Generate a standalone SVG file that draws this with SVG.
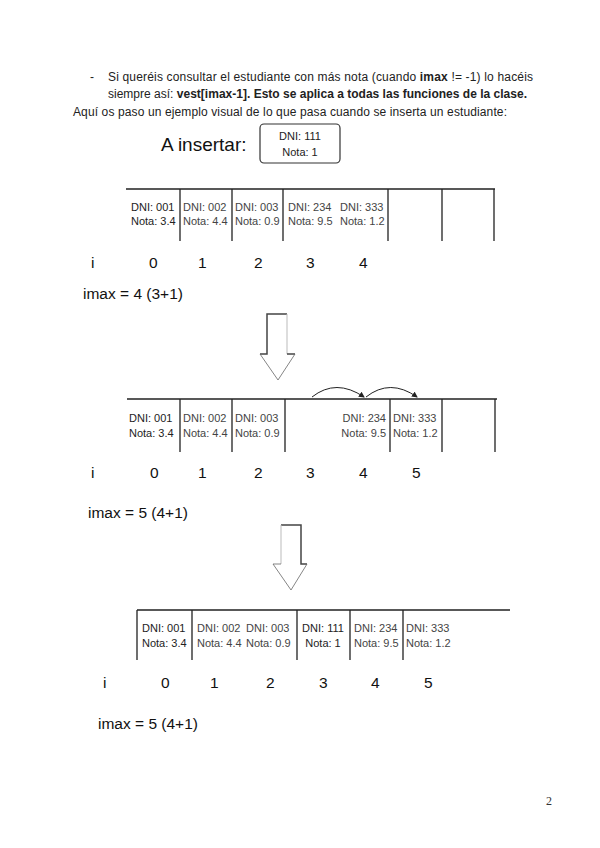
<svg xmlns="http://www.w3.org/2000/svg" width="600" height="848" viewBox="0 0 600 848">
<style>
.hdr{font-family:"Liberation Sans",Arial,sans-serif;font-size:12px;fill:#222}
.b{font-weight:bold}
.lbl{font-family:"Liberation Sans",Arial,sans-serif;font-size:15.5px;fill:#111}
.cell{font-family:"Liberation Sans",Arial,sans-serif;font-size:11px;fill:#444}
.cell1{fill:#222}
.ln{stroke:#222;stroke-width:1.3;fill:none}
.aro{stroke:#444;stroke-width:1.5;fill:none}
.arf{stroke:#bbb;stroke-width:1;fill:none}
.ard{stroke:#666;stroke-width:0.8;fill:none}
</style>
<defs>
<marker id="ah" markerWidth="6" markerHeight="6" refX="5" refY="3" orient="auto" markerUnits="userSpaceOnUse">
<path d="M0,0 L6,3 L0,6 Z" fill="#222"/>
</marker>
</defs>
<rect width="600" height="848" fill="#fff"/>

<g id="header">
<text class="hdr" x="90" y="81">-</text>
<text class="hdr" x="108" y="81" textLength="425" lengthAdjust="spacing">Si queréis consultar el estudiante con más nota (cuando <tspan class="b">imax</tspan> != -1) lo hacéis</text>
<text class="hdr" x="108" y="98" textLength="419" lengthAdjust="spacing">siempre así: <tspan class="b">vest[imax-1]. Esto se aplica a todas las funciones de la clase.</tspan></text>
<text class="hdr" x="73" y="116" textLength="434" lengthAdjust="spacing">Aquí os paso un ejemplo visual de lo que pasa cuando se inserta un estudiante:</text>
</g>

<g id="insert">
<text x="161" y="151" font-family="Liberation Sans, Arial, sans-serif" font-size="19" fill="#111">A insertar:</text>
<rect x="260" y="124" width="80" height="39" rx="4" fill="none" stroke="#333" stroke-width="1.2"/>
<text class="cell cell1" x="300" y="140" text-anchor="middle" font-size="12">DNI: 111</text>
<text class="cell cell1" x="300" y="156" text-anchor="middle" font-size="12">Nota: 1</text>
</g>

<g id="table1">
<path class="ln" d="M126,189 H495 M180,189 V241 M232,189 V241 M283,189 V241 M388,189 V241 M442,189 V241 M494,189 V241"/>
<text class="cell cell1" x="131" y="211">DNI: 001</text><text class="cell cell1" x="131" y="225">Nota: 3.4</text>
<text class="cell" x="183" y="211">DNI: 002</text><text class="cell" x="183" y="225">Nota: 4.4</text>
<text class="cell" x="235" y="211">DNI: 003</text><text class="cell" x="235" y="225">Nota: 0.9</text>
<text class="cell" x="288" y="211">DNI: 234</text><text class="cell" x="288" y="225">Nota: 9.5</text>
<text class="cell" x="340" y="211">DNI: 333</text><text class="cell" x="340" y="225">Nota: 1.2</text>
</g>
<g id="idx1">
<text class="lbl" x="91" y="268">i</text>
<text class="lbl" x="149" y="268">0</text>
<text class="lbl" x="198" y="268">1</text>
<text class="lbl" x="254" y="268">2</text>
<text class="lbl" x="306" y="268">3</text>
<text class="lbl" x="359" y="268">4</text>
<text class="lbl" x="83" y="299">imax = 4 (3+1)</text>
</g>

<g id="arrow1">
<path class="aro" d="M287,314 H267 V354 H260"/>
<path class="arf" d="M287,314 V354"/>
<path class="aro" d="M287,354 H295"/>
<path class="ard" d="M260,354 L278,380 L295,354"/>
</g>

<g id="table2">
<path class="ln" d="M127,399 H497 M180,399 V452 M232,399 V452 M285,399 V452 M390,399 V452 M442,399 V452 M495,399 V452"/>
<text class="cell cell1" x="129" y="422">DNI: 001</text><text class="cell cell1" x="129" y="437">Nota: 3.4</text>
<text class="cell" x="183" y="422">DNI: 002</text><text class="cell" x="183" y="437">Nota: 4.4</text>
<text class="cell" x="235" y="422">DNI: 003</text><text class="cell" x="235" y="437">Nota: 0.9</text>
<text class="cell" x="386" y="422" text-anchor="end">DNI: 234</text><text class="cell" x="386" y="437" text-anchor="end">Nota: 9.5</text>
<text class="cell" x="393" y="422">DNI: 333</text><text class="cell" x="393" y="437">Nota: 1.2</text>
</g>
<g id="connectors">
<path d="M312,397 Q336,378 364,397" stroke="#222" stroke-width="1" fill="none" marker-end="url(#ah)"/>
<path d="M366,397 Q390,378 417,397" stroke="#222" stroke-width="1" fill="none" marker-end="url(#ah)"/>
</g>
<g id="idx2">
<text class="lbl" x="91" y="478">i</text>
<text class="lbl" x="150" y="478">0</text>
<text class="lbl" x="198" y="478">1</text>
<text class="lbl" x="254" y="478">2</text>
<text class="lbl" x="306" y="478">3</text>
<text class="lbl" x="359" y="478">4</text>
<text class="lbl" x="412" y="478">5</text>
<text class="lbl" x="88" y="518">imax = 5 (4+1)</text>
</g>

<g id="arrow2">
<path class="aro" d="M281,525 H301 V564 H307"/>
<path class="arf" d="M281,525 V564"/>
<path class="ard" d="M273,564 H281" stroke="#888"/>
<path class="ard" d="M273,564 L291,590 L307,564"/>
</g>

<g id="table3">
<path class="ln" d="M137,610 H510 M137,610 V660 M192,610 V660 M297,610 V660 M350,610 V660 M403,610 V660"/>
<text class="cell cell1" x="142" y="632">DNI: 001</text><text class="cell cell1" x="142" y="647">Nota: 3.4</text>
<text class="cell" x="197" y="632">DNI: 002</text><text class="cell" x="197" y="647">Nota: 4.4</text>
<text class="cell" x="246" y="632">DNI: 003</text><text class="cell" x="246" y="647">Nota: 0.9</text>
<text class="cell cell1" x="323" y="632" text-anchor="middle">DNI: 111</text><text class="cell cell1" x="323" y="647" text-anchor="middle">Nota: 1</text>
<text class="cell" x="354" y="632">DNI: 234</text><text class="cell" x="354" y="647">Nota: 9.5</text>
<text class="cell" x="406" y="632">DNI: 333</text><text class="cell" x="406" y="647">Nota: 1.2</text>
</g>
<g id="idx3">
<text class="lbl" x="103" y="688">i</text>
<text class="lbl" x="161" y="688">0</text>
<text class="lbl" x="210" y="688">1</text>
<text class="lbl" x="266" y="688">2</text>
<text class="lbl" x="319" y="688">3</text>
<text class="lbl" x="371" y="688">4</text>
<text class="lbl" x="424" y="688">5</text>
<text class="lbl" x="98" y="729">imax = 5 (4+1)</text>
</g>

<text x="546" y="805" font-family="Liberation Serif, serif" font-size="12" fill="#333">2</text>
</svg>
